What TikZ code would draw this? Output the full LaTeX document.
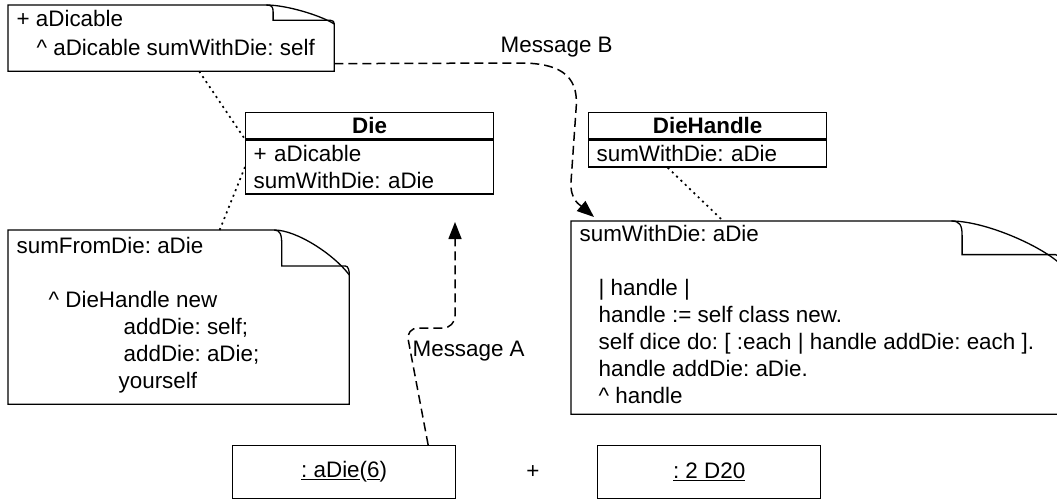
\documentclass[tikz,border=0pt]{standalone}
\usepackage{fontspec}
\setmainfont{Liberation Sans}
\usetikzlibrary{positioning,arrows.meta}

\tikzset{
  classhead/.style={draw, anchor=north west, inner sep=0pt, font=\fontsize{22.4}{27}\selectfont\bfseries},
  classbody/.style={draw, align=left, inner xsep=8pt, inner ysep=3pt},
  objbox/.style={draw, anchor=north west, minimum width=223pt, minimum height=53pt},
  notearea/.style={anchor=north west, inner sep=0pt},
  notetext/.style={align=left, inner sep=0pt},
  msg/.style={->, dash pattern=on 9pt off 5pt, line width=1.5pt},
  link/.style={dash pattern=on 2pt off 4pt, line width=1.7pt}
}

% note outline with a turned-down corner: name, fold width, fold height
\newcommand{\dogear}[3]{%
  \draw (#1.south west) -- (#1.north west) -- ([xshift=-#2pt]#1.north east) coordinate (#1 fold)
    .. controls +(#2*0.3,0) and +(-#2*0.2,-#3*0.45) .. ([yshift=-#3pt]#1.north east)
    -- (#1.south east) -- cycle;
  \draw (#1 fold) .. controls +(#2*0.08,0) and +(0,-#3*0.25) .. ++(#2*0.1,#3*0.35)
    -- ++(0,#3*0.45) -- ++(#2*0.9-4,0)
    .. controls +(3,0) and +(0,-#3*0.1) .. ([yshift=-#3pt]#1.north east);
}

\begin{document}
\frenchspacing
\begin{tikzpicture}[x=1pt, y=-1pt, line width=1.3pt, >={Triangle[length=17pt,width=13pt]},
  every node/.style={font=\fontsize{22.4}{27}\selectfont}]

\useasboundingbox (0,0) rectangle (1057,501);

% Notes
\node[notearea, minimum width=325pt, minimum height=65pt] (n1) at (8,5) {};
\dogear{n1}{68}{19}
\node[notetext, below right=5pt and 8pt of n1.north west] (t1)
  {+ aDicable\\[2pt]\hspace*{20pt}\textasciicircum{} aDicable sumWithDie: self};

\node[notearea, minimum width=340pt, minimum height=173pt] (n2) at (8,230) {};
\dogear{n2}{75}{45}
\node[notetext, below right=7pt and 8pt of n2.north west] (t2)
  {sumFromDie: aDie\\[27pt]
   \hspace*{32pt}\textasciicircum{} DieHandle new\\
   \hspace*{107pt}addDie: self;\\
   \hspace*{107pt}addDie: aDie;\\
   \hspace*{102pt}yourself};

\node[notearea, minimum width=487pt, minimum height=192pt] (n3) at (571,221) {};
\dogear{n3}{108}{42}
\node[notetext, below right=4pt and 8pt of n3.north west] (t3)
  {sumWithDie: aDie\\[27pt]
   \hspace*{19pt}| handle |\\
   \hspace*{19pt}handle := self class new.\\
   \hspace*{19pt}self dice do: [ :each | handle addDie: each ].\\
   \hspace*{19pt}handle addDie: aDie.\\
   \hspace*{19pt}\textasciicircum{} handle};

% Classes
\node[classhead, minimum width=248pt, minimum height=26pt] (die) at (245,112) {Die};
\node[classbody, text width=232pt, minimum height=54pt, below=0pt of die] (dieops)
  {+ aDicable\\sumWithDie: aDie};

\node[classhead, minimum width=238pt, minimum height=26pt] (dh) at (588,112) {DieHandle};
\node[classbody, text width=222pt, minimum height=27pt, below=0pt of dh] (dhops)
  {sumWithDie: aDie};

% Objects
\node[objbox] (obj1) at (232,445) {\underline{: aDie}(\underline{6})};
\node (plus) at (533,472) {+};
\node[objbox] (obj2) at (597,445) {\underline{: 2 D20}};

% Note links
\draw[link] ([xshift=28pt]n1.south) -- (die.south west);
\draw[link] (dieops.west) -- ([xshift=41pt]n2.north);
\draw[link] ([xshift=-40pt]dhops.south) -- ([xshift=-92pt]n3.north);

% Messages
\coordinate (aTip) at (455,222);
\draw[msg, rounded corners=12pt] ([xshift=84pt]obj1.north) -- (406,328) -- (455,328) -- (aTip);
\node[anchor=west, inner sep=0pt] (msgA) at (412,351) {Message A};

\coordinate (bTip) at (594,217);
\draw[msg] ([yshift=-25.5pt]n1.east) -- (520,63) .. controls (566,63) and (579,80) .. (576,110)
  -- (571,182) .. controls (570,200) and (580,205) .. (bTip);
\node[anchor=west, inner sep=0pt] (msgB) at (500,47) {Message B};

\end{tikzpicture}
\end{document}
